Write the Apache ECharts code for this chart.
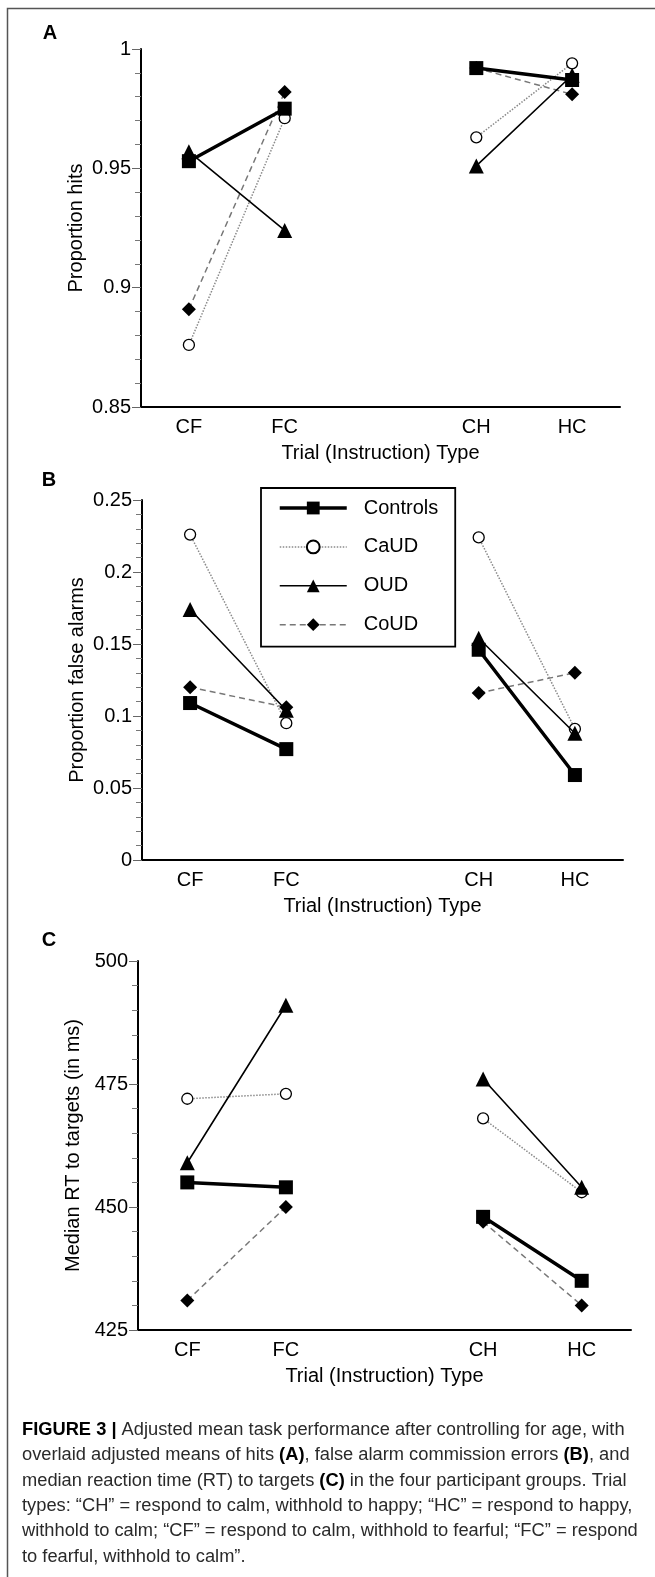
<!DOCTYPE html>
<html>
<head>
<meta charset="utf-8">
<style>
  html, body { margin: 0; padding: 0; background: #fff; }
  #chart { width: 655px; height: 1577px; }
</style>
<script src="https://cdn.jsdelivr.net/npm/echarts@6.0.0/dist/echarts.min.js"></script>
</head>
<body>
<div id="chart"></div>
<script>
const categories = ['CF', 'FC', '', 'CH', 'HC'];
const groups = ['Controls', 'CaUD', 'OUD', 'CoUD'];

// panel A: proportion hits
const hitsControls = [0.953, 0.975, '-', 0.992, 0.987];
const hitsCaUD = [0.876, 0.971, '-', 0.963, 0.994];
const hitsOUD = [0.957, 0.924, '-', 0.951, 0.989];
const hitsCoUD = [0.891, 0.982, '-', 0.992, 0.981];

// panel B: proportion false alarms
const faControls = [0.109, 0.077, '-', 0.146, 0.059];
const faCaUD = [0.226, 0.095, '-', 0.224, 0.091];
const faOUD = [0.174, 0.104, '-', 0.154, 0.088];
const faCoUD = [0.120, 0.106, '-', 0.116, 0.130];

// panel C: median RT
const rtControls = [455, 454, '-', 448, 435];
const rtCaUD = [472, 473, '-', 468, 453];
const rtOUD = [459, 491, '-', 476, 454];
const rtCoUD = [431, 450, '-', 447, 430];

const captionLines = [
  '{b|FIGURE 3 |} Adjusted mean task performance after controlling for age, with',
  'overlaid adjusted means of hits {b|(A)}, false alarm commission errors {b|(B)}, and',
  'median reaction time (RT) to targets {b|(C)} in the four participant groups. Trial',
  'types: \u201cCH\u201d = respond to calm, withhold to happy; \u201cHC\u201d = respond to happy,',
  'withhold to calm; \u201cCF\u201d = respond to calm, withhold to fearful; \u201cFC\u201d = respond',
  'to fearful, withhold to calm\u201d.'
];

const font = 'Liberation Sans, Arial, sans-serif';

const styles = {
  Controls: {
    symbol: 'rect', symbolSize: 14,
    itemStyle: { color: '#000' },
    lineStyle: { color: '#000', width: 3.5, type: 'solid' }
  },
  CaUD: {
    symbol: 'circle', symbolSize: 11,
    itemStyle: { color: '#fff', borderColor: '#000', borderWidth: 1.3 },
    lineStyle: { color: '#8a8a8a', width: 1.5, type: 'dotted' }
  },
  OUD: {
    symbol: 'triangle', symbolSize: 15,
    itemStyle: { color: '#000' },
    lineStyle: { color: '#000', width: 1.6, type: 'solid' }
  },
  CoUD: {
    symbol: 'diamond', symbolSize: 14,
    itemStyle: { color: '#000' },
    lineStyle: { color: '#777', width: 1.5, type: [6, 4] }
  }
};

const panels = [
  { data: { Controls: hitsControls, CaUD: hitsCaUD, OUD: hitsOUD, CoUD: hitsCoUD },
    min: 0.85, max: 1, interval: 0.05, name: 'Proportion hits' },
  { data: { Controls: faControls, CaUD: faCaUD, OUD: faOUD, CoUD: faCoUD },
    min: 0, max: 0.25, interval: 0.05, name: 'Proportion false alarms' },
  { data: { Controls: rtControls, CaUD: rtCaUD, OUD: rtOUD, CoUD: rtCoUD },
    min: 425, max: 500, interval: 25, name: 'Median RT to targets (in ms)' }
];

const grids = [
  { left: 141, top: 49, width: 479, height: 358 },
  { left: 142, top: 500, width: 481, height: 360 },
  { left: 138, top: 961, width: 493, height: 369 }
];

const xAxes = grids.map((g, i) => ({
  type: 'category', gridIndex: i, data: categories, boundaryGap: true,
  axisLine: { lineStyle: { color: '#000', width: 2 } },
  axisTick: { alignWithLabel: true, interval: 0, length: 7, lineStyle: { color: '#666', width: 1 } },
  axisLabel: { interval: 0, margin: 10, color: '#000', fontSize: 20, fontFamily: font },
  name: 'Trial (Instruction) Type', nameLocation: 'middle', nameGap: 36,
  nameMoveOverlap: false,
  nameTextStyle: { color: '#000', fontSize: 20, fontFamily: font },
  splitLine: { show: false }
}));

const yAxes = panels.map((p, i) => ({
  type: 'value', gridIndex: i, min: p.min, max: p.max, interval: p.interval,
  axisLine: { show: true, lineStyle: { color: '#000', width: 2 } },
  axisTick: { show: true, length: 9, lineStyle: { color: '#666', width: 1 } },
  minorTick: { show: true, splitNumber: 5, length: 6, lineStyle: { color: '#777', width: 1 } },
  axisLabel: { margin: 10, color: '#000', fontSize: 20, fontFamily: font },
  splitLine: { show: false },
  name: p.name, nameLocation: 'middle', nameGap: 55,
  nameMoveOverlap: false,
  nameTextStyle: { color: '#000', fontSize: 20, fontFamily: font }
}));

const series = [];
const drawOrder = ['CoUD', 'CaUD', 'OUD', 'Controls'];
panels.forEach((p, i) => {
  drawOrder.forEach((g, k) => {
    series.push(Object.assign({
      name: g, type: 'line', xAxisIndex: i, yAxisIndex: i,
      data: p.data[g], connectNulls: false, z: 2 + k,
      emphasis: { disabled: true }
    }, styles[g]));
  });
});

const legendData = groups.map(g => ({
  name: g,
  lineStyle: { width: styles[g].lineStyle.width }
}));

const chart = echarts.init(document.getElementById('chart'));
chart.setOption({
  animation: false,
  backgroundColor: '#fff',
  grid: grids,
  xAxis: xAxes,
  yAxis: yAxes,
  legend: {
    orient: 'vertical', left: 261, top: 488,
    data: legendData,
    itemWidth: 67, itemHeight: 16, itemGap: 18.9,
    padding: [10, 17, 12, 17],
    borderColor: '#000', borderWidth: 1.8,
    selectedMode: false,
    textStyle: { color: '#000', fontSize: 20, fontFamily: font, padding: [0, 0, 0, 12] }
  },
  graphic: [
    { type: 'rect', shape: { x: 7.5, y: 8.5, width: 700, height: 1600 },
      style: { fill: 'none', stroke: '#555', lineWidth: 1.5 }, silent: true },
    { type: 'text', x: 50, y: 33, style: { text: 'A', font: 'bold 20px ' + font, fill: '#000', align: 'center', verticalAlign: 'middle' } },
    { type: 'text', x: 49, y: 480, style: { text: 'B', font: 'bold 20px ' + font, fill: '#000', align: 'center', verticalAlign: 'middle' } },
    { type: 'text', x: 49, y: 940, style: { text: 'C', font: 'bold 20px ' + font, fill: '#000', align: 'center', verticalAlign: 'middle' } },
    { type: 'text', x: 22, y: 1417,
      style: {
        text: captionLines.join('\n'),
        fontSize: 18.3, fontFamily: font, fill: '#2a2a2a', lineHeight: 25.4,
        rich: { b: { fontSize: 18.3, fontFamily: font, fontWeight: 'bold', fill: '#000', lineHeight: 25.4 } }
      } }
  ],
  series: series
});
</script>
</body>
</html>
